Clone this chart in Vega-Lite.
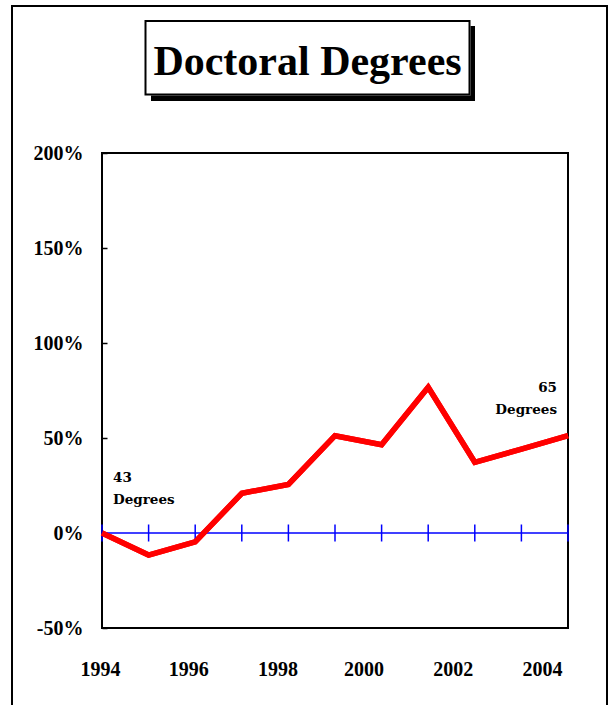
{
  "$schema": "https://vega.github.io/schema/vega-lite/v6.json",
  "width": 466,
  "height": 475,
  "autosize": {"type": "none"},
  "padding": {"left": 102, "top": 153, "right": 43, "bottom": 77},
  "background": "white",
  "config": {"font": "Liberation Serif", "view": {"stroke": "black", "strokeWidth": 2}},
  "title": {"text": "Doctoral Degrees", "font": "Liberation Serif", "fontSize": 42, "fontWeight": "bold", "color": "black", "anchor": "middle", "frame": "group", "dx": -27.5, "baseline": "alphabetic", "offset": -112},
  "datasets": {
    "series": [
      {"year": 1994, "pct": 0},
      {"year": 1995, "pct": -11.6},
      {"year": 1996, "pct": -4.7},
      {"year": 1997, "pct": 20.9},
      {"year": 1998, "pct": 25.6},
      {"year": 1999, "pct": 51.2},
      {"year": 2000, "pct": 46.5},
      {"year": 2001, "pct": 76.7},
      {"year": 2002, "pct": 37.2},
      {"year": 2003, "pct": 44.2},
      {"year": 2004, "pct": 51.2}
    ],
    "notes": [
      {"year": 1994, "pct": 0, "label": "43\nDegrees"},
      {"year": 2004, "pct": 51.2, "label": "65\nDegrees"}
    ],
    "deco": [{}]
  },
  "layer": [
    {
      "data": {"name": "deco"},
      "mark": {"type": "rect", "filled": false, "stroke": "black", "strokeWidth": 2, "xOffset": -90, "x2Offset": 39, "yOffset": -147, "y2Offset": 120},
      "encoding": {"x": {"value": 0}, "x2": {"value": "width"}, "y": {"value": 0}, "y2": {"value": "height"}}
    },
    {
      "data": {"name": "deco"},
      "mark": {"type": "rect", "fill": "black", "xOffset": -97.5, "x2Offset": -93, "yOffset": -127, "y2Offset": -52},
      "encoding": {"x": {"value": "width"}, "x2": {"value": "width"}, "y": {"value": 0}, "y2": {"value": 0}}
    },
    {
      "data": {"name": "deco"},
      "mark": {"type": "rect", "fill": "black", "xOffset": 49, "x2Offset": -93, "yOffset": -57.5, "y2Offset": -52},
      "encoding": {"x": {"value": 0}, "x2": {"value": "width"}, "y": {"value": 0}, "y2": {"value": 0}}
    },
    {
      "data": {"name": "deco"},
      "mark": {"type": "rect", "filled": false, "stroke": "black", "strokeWidth": 2, "xOffset": 43.5, "x2Offset": -98.5, "yOffset": -132, "y2Offset": -58.5},
      "encoding": {"x": {"value": 0}, "x2": {"value": "width"}, "y": {"value": 0}, "y2": {"value": 0}}
    },
    {
      "data": {"name": "series"},
      "mark": {"type": "line", "color": "#ff0000", "strokeWidth": 5.5, "strokeJoin": "miter"},
      "encoding": {
        "x": {
          "field": "year", "type": "quantitative",
          "scale": {"domain": [1994, 2004], "nice": false, "zero": false},
          "axis": {
            "values": [1994, 1996, 1998, 2000, 2002, 2004], "format": "d", "title": null,
            "ticks": false, "domain": false, "grid": false,
            "labelFont": "Liberation Serif", "labelFontSize": 20, "labelFontWeight": "bold", "labelColor": "black",
            "labelBaseline": "alphabetic", "labelPadding": 47, "labelFlush": false, "labelOverlap": false,
            "labelOffset": {"condition": [
              {"test": "datum.value == 1996", "value": -7},
              {"test": "datum.value == 1998", "value": -11},
              {"test": "datum.value == 2000", "value": -18},
              {"test": "datum.value == 2002", "value": -22},
              {"test": "datum.value == 2004", "value": -26}
            ], "value": -2}
          }
        },
        "y": {
          "field": "pct", "type": "quantitative",
          "scale": {"domain": [-50, 200], "nice": false, "zero": false},
          "axis": {
            "values": [-50, 0, 50, 100, 150, 200], "labelExpr": "datum.value + '%'", "title": null,
            "domain": false, "grid": false, "tickSize": -5, "tickColor": "black", "tickWidth": 1.5,
            "labelFont": "Liberation Serif", "labelFontSize": 20, "labelFontWeight": "bold", "labelColor": "black",
            "labelPadding": 24, "labelBaseline": "middle"
          }
        }
      }
    },
    {
      "data": {"name": "deco"},
      "mark": {"type": "rule", "color": "#0000ff", "strokeWidth": 1.5},
      "encoding": {"y": {"datum": 0, "type": "quantitative"}}
    },
    {
      "data": {"name": "series"},
      "mark": {"type": "tick", "orient": "vertical", "color": "#0000ff", "thickness": 1.5, "size": 17, "opacity": 1},
      "encoding": {"x": {"field": "year", "type": "quantitative"}, "y": {"datum": 0, "type": "quantitative"}}
    },
    {
      "data": {"name": "series"},
      "mark": {"type": "line", "color": "#ff0000", "strokeWidth": 5.5, "strokeJoin": "miter"},
      "encoding": {"x": {"field": "year", "type": "quantitative"}, "y": {"field": "pct", "type": "quantitative"}}
    },
    {
      "data": {"name": "notes"},
      "transform": [{"filter": "datum.year == 1994"}],
      "mark": {"type": "text", "align": "left", "baseline": "alphabetic", "dx": 11, "dy": -51, "lineBreak": "\n", "lineHeight": 22, "font": "DejaVu Serif", "fontSize": 13.5, "fontWeight": "bold", "color": "black"},
      "encoding": {"x": {"field": "year", "type": "quantitative"}, "y": {"field": "pct", "type": "quantitative"}, "text": {"field": "label"}}
    },
    {
      "data": {"name": "notes"},
      "transform": [{"filter": "datum.year == 2004"}],
      "mark": {"type": "text", "align": "right", "baseline": "alphabetic", "dx": -11, "dy": -44, "lineBreak": "\n", "lineHeight": 22, "font": "DejaVu Serif", "fontSize": 13.5, "fontWeight": "bold", "color": "black"},
      "encoding": {"x": {"field": "year", "type": "quantitative"}, "y": {"field": "pct", "type": "quantitative"}, "text": {"field": "label"}}
    }
  ]
}
